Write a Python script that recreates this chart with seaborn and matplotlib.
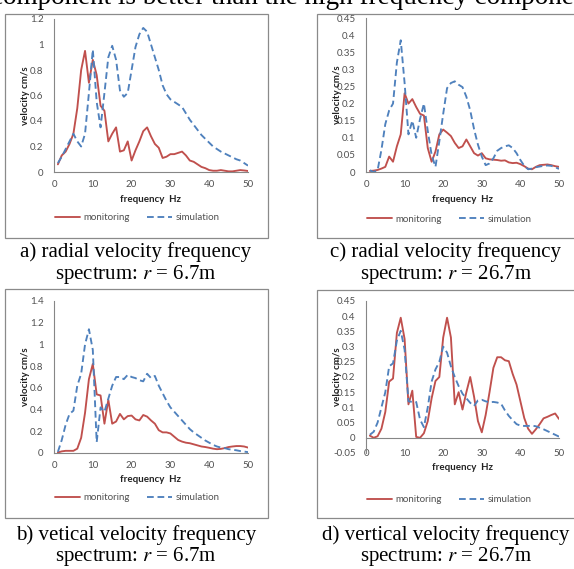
import matplotlib
matplotlib.use('Agg')
import matplotlib.pyplot as plt
import matplotlib.patches as mpatches
from matplotlib.ticker import FuncFormatter
import numpy as np
import pandas as pd
import seaborn as sns

# frequency axis (Hz) shared by all four spectra
freq = list(range(1, 51))

# a) radial, r = 6.7m
mon_a = [0.06, 0.13, 0.16, 0.22, 0.30, 0.50, 0.80, 0.95, 0.70, 0.88,
         0.76, 0.52, 0.48, 0.24, 0.30, 0.35, 0.16, 0.17, 0.24, 0.09,
         0.17, 0.24, 0.32, 0.35, 0.28, 0.22, 0.19, 0.11, 0.12, 0.14,
         0.14, 0.15, 0.16, 0.13, 0.09, 0.08, 0.06, 0.04, 0.03, 0.015,
         0.01, 0.01, 0.015, 0.01, 0.005, 0.005, 0.01, 0.015, 0.012, 0.008]
sim_a = [0.07, 0.12, 0.18, 0.24, 0.30, 0.24, 0.20, 0.30, 0.62, 0.96,
         0.55, 0.35, 0.62, 0.90, 0.99, 0.88, 0.64, 0.59, 0.62, 0.80,
         0.98, 1.08, 1.13, 1.10, 1.00, 0.90, 0.80, 0.68, 0.61, 0.57,
         0.55, 0.53, 0.51, 0.46, 0.41, 0.37, 0.33, 0.29, 0.26, 0.23,
         0.20, 0.18, 0.16, 0.145, 0.13, 0.115, 0.10, 0.09, 0.07, 0.05]

# c) radial, r = 26.7m
mon_c = [0.003, 0.004, 0.006, 0.01, 0.015, 0.045, 0.03, 0.075, 0.11, 0.23,
         0.20, 0.213, 0.19, 0.17, 0.165, 0.07, 0.03, 0.06, 0.11, 0.124,
         0.115, 0.105, 0.085, 0.07, 0.075, 0.095, 0.075, 0.055, 0.048, 0.055,
         0.04, 0.037, 0.036, 0.035, 0.033, 0.034, 0.028, 0.026, 0.027, 0.023,
         0.017, 0.01, 0.008, 0.015, 0.02, 0.021, 0.022, 0.02, 0.017, 0.015]
sim_c = [0.005, 0.0, 0.005, 0.065, 0.14, 0.18, 0.2, 0.32, 0.385, 0.26,
         0.11, 0.15, 0.10, 0.155, 0.2, 0.12, 0.05, 0.015, 0.09, 0.17,
         0.245, 0.26, 0.265, 0.255, 0.248, 0.22, 0.18, 0.125, 0.08, 0.045,
         0.02, 0.025, 0.04, 0.062, 0.07, 0.075, 0.078, 0.07, 0.055, 0.035,
         0.018, 0.008, 0.01, 0.014, 0.016, 0.018, 0.019, 0.018, 0.014, 0.009]

# b) vertical, r = 6.7m
mon_b = [0.005, 0.015, 0.02, 0.02, 0.02, 0.04, 0.14, 0.37, 0.68, 0.82,
         0.54, 0.53, 0.27, 0.49, 0.27, 0.29, 0.36, 0.31, 0.34, 0.345,
         0.31, 0.30, 0.35, 0.335, 0.30, 0.27, 0.21, 0.19, 0.19, 0.18,
         0.15, 0.12, 0.105, 0.095, 0.09, 0.08, 0.07, 0.06, 0.055, 0.048,
         0.04, 0.035, 0.038, 0.045, 0.055, 0.06, 0.064, 0.064, 0.06, 0.05]
sim_b = [0.01, 0.12, 0.26, 0.36, 0.39, 0.62, 0.73, 1.0, 1.14, 0.95,
         0.1, 0.42, 0.38, 0.5, 0.62, 0.7, 0.7, 0.68, 0.72, 0.7,
         0.69, 0.67, 0.66, 0.73, 0.69, 0.71, 0.62, 0.55, 0.48, 0.42,
         0.38, 0.34, 0.3, 0.26, 0.22, 0.19, 0.165, 0.14, 0.115, 0.095,
         0.075, 0.06, 0.05, 0.045, 0.035, 0.03, 0.025, 0.018, 0.013, 0.008]

# d) vertical, r = 26.7m
mon_d = [0.007, 0.0, 0.005, 0.03, 0.085, 0.185, 0.195, 0.345, 0.395, 0.325,
         0.11, 0.155, 0.003, 0.0, 0.015, 0.055, 0.13, 0.187, 0.2, 0.33,
         0.395, 0.33, 0.11, 0.15, 0.093, 0.15, 0.2, 0.135, 0.055, 0.018,
         0.075, 0.15, 0.23, 0.265, 0.265, 0.255, 0.252, 0.21, 0.175, 0.12,
         0.065, 0.03, 0.013, 0.028, 0.045, 0.064, 0.069, 0.075, 0.08, 0.062]
sim_d = [0.01, 0.02, 0.05, 0.1, 0.15, 0.235, 0.245, 0.32, 0.352, 0.29,
         0.12, 0.118, 0.118, 0.06, 0.035, 0.1, 0.185, 0.225, 0.25, 0.3,
         0.28, 0.235, 0.2, 0.17, 0.145, 0.13, 0.115, 0.105, 0.123, 0.125,
         0.12, 0.117, 0.118, 0.116, 0.112, 0.09, 0.072, 0.058, 0.045, 0.04,
         0.039, 0.039, 0.04, 0.038, 0.033, 0.028, 0.022, 0.016, 0.01, 0.004]

series_names = ['monitoring', 'simulation']
x_ticks = [0, 10, 20, 30, 40, 50]

sns.set_style('white')
plt.rcParams['font.family'] = ['Lato', 'DejaVu Sans']
plt.rcParams['mathtext.fontset'] = 'stix'

W, H = 574, 569
fig = plt.figure(figsize=(W / 100, H / 100), dpi=100)

RED = '#C0504D'
BLUE = '#4F81BD'
AXC = '#868686'
TICKC = '#505050'
SERIF = 'Liberation Serif'
FS = 7


def fx(x):
    return x / W


def fy(y):
    return 1 - y / H


def panel(box, axpx, mon, sim, ylim, ystep, leg_xy, xlab_y, cap_x, cap_y, cap1, cap2):
    # frame around chart + legend
    bx0, by0, bx1, by1 = box
    fig.add_artist(mpatches.Rectangle((fx(bx0), fy(by1)), (bx1 - bx0) / W, (by1 - by0) / H,
                                      transform=fig.transFigure, fill=False,
                                      edgecolor='#8a8a8a', linewidth=0.9))
    l, t, r, b = axpx
    ax = fig.add_axes([fx(l), fy(b), (r - l) / W, (b - t) / H])
    df = pd.DataFrame({'freq': freq * 2,
                       'velocity': mon + sim,
                       'series': [series_names[0]] * len(mon) + [series_names[1]] * len(sim)})
    sns.lineplot(data=df, x='freq', y='velocity', hue='series', style='series',
                 palette={'monitoring': RED, 'simulation': BLUE},
                 dashes={'monitoring': '', 'simulation': (3.6, 2.0)},
                 linewidth=1.35, ax=ax)
    ax.set_xlim(0, 50)
    ax.set_ylim(*ylim)
    ax.set_xticks(x_ticks)
    ax.set_yticks(np.round(np.arange(ylim[0], ylim[1] + ystep / 2, ystep), 3))
    ax.yaxis.set_major_formatter(FuncFormatter(lambda v, p: '{:g}'.format(round(v, 3))))
    for s in ['top', 'right']:
        ax.spines[s].set_visible(False)
    for s in ['left', 'bottom']:
        ax.spines[s].set_color(AXC)
        ax.spines[s].set_linewidth(0.8)
    if ylim[0] < 0:
        ax.spines['bottom'].set_position(('data', 0))
    ax.tick_params(axis='both', labelsize=FS, colors=TICKC)
    ax.tick_params(axis='x', length=0, pad=6 if ylim[0] >= 0 else 8)
    ax.tick_params(axis='y', length=2.5, width=0.6, color=AXC, pad=5)
    ax.set_xlabel('frequency  Hz', fontsize=FS, fontweight='bold', color='#222222')
    ax.set_ylabel('velocity cm/s', fontsize=FS, fontweight='bold', color='#222222')
    ax.xaxis.set_label_coords(0.5, (b - xlab_y) / (b - t))
    ax.xaxis.label.set_va('center')
    ax.yaxis.set_label_coords(-29 / (r - l), 0.5)
    ax.yaxis.label.set_va('center')
    sns.move_legend(ax, loc='center left', bbox_to_anchor=(fx(leg_xy[0]), fy(leg_xy[1])),
                    bbox_transform=fig.transFigure, ncol=2, frameon=False, title=None,
                    fontsize=FS, handlelength=2.6, handletextpad=0.3,
                    columnspacing=1.8, borderpad=0, borderaxespad=0)
    for txt in ax.get_legend().get_texts():
        txt.set_color(TICKC)
    fig.text(fx(cap_x), fy(cap_y), cap1, ha='center', va='center',
             family=SERIF, fontsize=15, color='black')
    fig.text(fx(cap_x), fy(cap_y + 22), cap2, ha='center', va='center',
             family=SERIF, fontsize=15, color='black')
    return ax


panel((5, 14, 268, 238), (54, 19, 248, 172), mon_a, sim_a, (0, 1.2), 0.2,
      (55, 218), 199, 136, 252, 'a) radial velocity frequency', 'spectrum: $r$ = 6.7m')
panel((317, 14, 580, 238), (366, 18, 559, 172), mon_c, sim_c, (0, 0.45), 0.05,
      (367, 219), 200, 446, 252, 'c) radial velocity frequency', 'spectrum: $r$ = 26.7m')
panel((5, 289, 268, 518), (54, 301, 248, 453), mon_b, sim_b, (0, 1.4), 0.2,
      (55, 498), 480, 136, 535, 'b) vetical velocity frequency', 'spectrum: $r$ = 6.7m')
panel((317, 290, 580, 518), (366, 301, 559, 453), mon_d, sim_d, (-0.05, 0.45), 0.05,
      (367, 500), 467, 446, 535, 'd) vertical velocity frequency', 'spectrum: $r$ = 26.7m')

# body text line clipped at the top of the crop, as in the source page
fig.text(fx(-9), fy(4), 'component is better than the high frequency component',
         ha='left', va='baseline', family=SERIF, fontsize=19.5, color='black')

fig.savefig('out.png', dpi=100)
